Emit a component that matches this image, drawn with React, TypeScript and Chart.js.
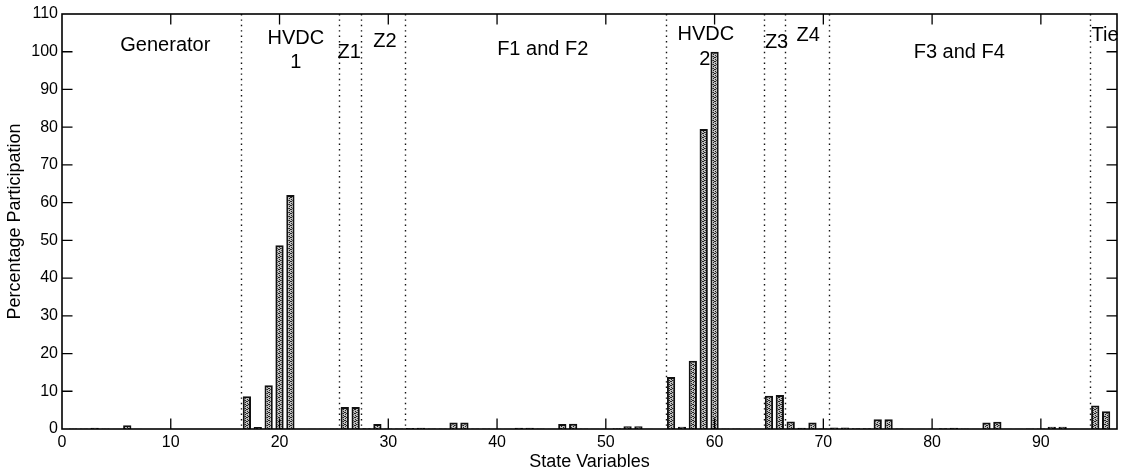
import React, { useEffect, useRef } from "react";
import { Chart, registerables } from "chart.js";

Chart.register(...registerables);

const stateVariables = [
  1, 2, 3, 4, 5, 6, 7, 8, 9, 10, 11, 12, 13, 14, 15, 16,
  17, 18, 19, 20, 21, 22, 23, 24, 25, 26, 27, 28, 29, 30, 31, 32,
  33, 34, 35, 36, 37, 38, 39, 40, 41, 42, 43, 44, 45, 46, 47, 48,
  49, 50, 51, 52, 53, 54, 55, 56, 57, 58, 59, 60, 61, 62, 63, 64,
  65, 66, 67, 68, 69, 70, 71, 72, 73, 74, 75, 76, 77, 78, 79, 80,
  81, 82, 83, 84, 85, 86, 87, 88, 89, 90, 91, 92, 93, 94, 95, 96,
];

const participation = [
  0.15, 0.15, 0.35, 0.1, 0.05, 1.0, 0.05, 0.02, 0.02, 0.02, 0.02, 0.02, 0.02, 0.02, 0.02, 0.02,
  8.7, 0.5, 11.6, 48.7, 62.0, 0.05, 0.05, 0.05, 0.1, 5.8, 5.8, 0.2, 1.3, 0.1, 0.1, 0.25,
  0.3, 0.1, 0.1, 1.7, 1.7, 0.1, 0.1, 0.05, 0.05, 0.3, 0.3, 0.1, 0.05, 1.3, 1.4, 0.1,
  0.05, 0.05, 0.2, 0.7, 0.7, 0.05, 0.02, 13.8, 0.6, 18.1, 79.5, 100.0, 0.1, 0.1, 0.05, 0.05,
  8.8, 9.0, 2.0, 0.3, 1.7, 0.1, 0.4, 0.4, 0.2, 0.2, 2.6, 2.6, 0.1, 0.05, 0.05, 0.05,
  0.2, 0.3, 0.1, 0.05, 1.7, 1.9, 0.05, 0.05, 0.1, 0.1, 0.6, 0.6, 0.05, 0.05, 6.2, 4.7,
];

const boundaries = [16.5, 25.5, 27.5, 31.5, 55.5, 64.5, 66.5, 70.5, 94.5];

const regionLabels = ["Generator", "HVDC", "1", "Z1", "Z2", "F1 and F2", "HVDC", "2", "Z3", "Z4", "F3 and F4", "Tie"];
const regionLabelX = [9.5, 21.5, 21.5, 26.4, 29.7, 44.2, 59.2, 59.1, 65.7, 68.6, 82.5, 95.9];
const regionLabelY = [101.6, 103.4, 97.2, 99.9, 102.8, 100.5, 104.5, 97.9, 102.5, 104.2, 99.7, 104.2];

const xTickValues = [10, 20, 30, 40, 50, 60, 70, 80, 90];
const yTickValues = [10, 20, 30, 40, 50, 60, 70, 80, 90, 100];

const FONT = "'Liberation Sans', Arial, Helvetica, sans-serif";

const overlayPlugin = {
  id: "overlay",
  beforeDatasetsDraw(chart: any) {
    const { ctx, chartArea, scales } = chart;
    ctx.save();
    ctx.strokeStyle = "#111";
    ctx.lineWidth = 1.4;
    ctx.setLineDash([1.4, 4]);
    for (const b of boundaries) {
      const px = Math.round(scales.x.getPixelForValue(b)) + 0.5;
      ctx.beginPath();
      ctx.moveTo(px, chartArea.top);
      ctx.lineTo(px, chartArea.bottom);
      ctx.stroke();
    }
    ctx.restore();
  },
  afterDatasetsDraw(chart: any) {
    const { ctx, chartArea, scales } = chart;
    const { left, right, top, bottom } = chartArea;
    ctx.save();
    ctx.fillStyle = "#000";
    ctx.font = `20px ${FONT}`;
    ctx.textAlign = "center";
    ctx.textBaseline = "middle";
    regionLabels.forEach((t, i) => {
      ctx.fillText(t, scales.x.getPixelForValue(regionLabelX[i]), scales.y.getPixelForValue(regionLabelY[i]));
    });
    ctx.strokeStyle = "#000";
    ctx.lineWidth = 1.6;
    ctx.strokeRect(left, top, right - left, bottom - top);
    const tl = 10.5;
    ctx.lineWidth = 1.3;
    ctx.beginPath();
    for (const v of xTickValues) {
      const px = scales.x.getPixelForValue(v);
      ctx.moveTo(px, bottom);
      ctx.lineTo(px, bottom - tl);
      ctx.moveTo(px, top);
      ctx.lineTo(px, top + tl);
    }
    for (const v of yTickValues) {
      const py = scales.y.getPixelForValue(v);
      ctx.moveTo(left, py);
      ctx.lineTo(left + tl, py);
      ctx.moveTo(right, py);
      ctx.lineTo(right - tl, py);
    }
    ctx.stroke();
    ctx.restore();
  },
};

export default function App() {
  const ref = useRef<HTMLCanvasElement>(null);

  useEffect(() => {
    const canvas = ref.current;
    if (!canvas) return;
    const pc = document.createElement("canvas");
    pc.width = 4;
    pc.height = 4;
    const p = pc.getContext("2d")!;
    p.fillStyle = "#bdbdbd";
    p.fillRect(0, 0, 4, 4);
    p.fillStyle = "#222";
    [[0, 0], [2, 1], [1, 2], [3, 3], [3, 1], [1, 0]].forEach(([x, y]) => p.fillRect(x, y, 1, 1));
    const pattern = canvas.getContext("2d")!.createPattern(pc, "repeat");

    const chart = new Chart(canvas, {
      type: "bar",
      data: {
        datasets: [
          {
            data: stateVariables.map((x, i) => ({ x, y: participation[i] })),
            backgroundColor: pattern as any,
            borderColor: "#111",
            borderWidth: 2,
            barPercentage: 0.76,
            categoryPercentage: 1,
          },
        ],
      },
      options: {
        animation: false,
        responsive: true,
        maintainAspectRatio: false,
        layout: { padding: { top: 14, right: 4, left: 0, bottom: 0 } },
        plugins: { legend: { display: false }, tooltip: { enabled: false } },
        scales: {
          x: {
            type: "linear",
            min: 0,
            max: 97,
            offset: false,
            grid: { display: false, drawTicks: false },
            border: { display: false },
            ticks: {
              stepSize: 10,
              includeBounds: false,
              color: "#000",
              font: { size: 16, family: FONT },
              padding: 4,
              maxRotation: 0,
            },
            title: {
              display: true,
              text: "State Variables",
              color: "#000",
              font: { size: 18, family: FONT },
              padding: { top: 0, bottom: 2 },
            },
            afterFit: (s: any) => {
              s.height = 46;
            },
          },
          y: {
            min: 0,
            max: 110,
            grid: { display: false, drawTicks: false },
            border: { display: false },
            ticks: {
              stepSize: 10,
              color: "#000",
              font: { size: 16, family: FONT },
              padding: 4,
            },
            title: {
              display: true,
              text: "Percentage Participation",
              color: "#000",
              font: { size: 18, family: FONT },
              padding: { top: 4, bottom: 0 },
            },
            afterFit: (s: any) => {
              s.width = 62;
            },
          },
        },
      },
      plugins: [overlayPlugin],
    });
    return () => chart.destroy();
  }, []);

  return (
    <div style={{ position: "fixed", left: 0, top: 0, width: 1121, height: 475, background: "#fff" }}>
      <canvas ref={ref} />
    </div>
  );
}
